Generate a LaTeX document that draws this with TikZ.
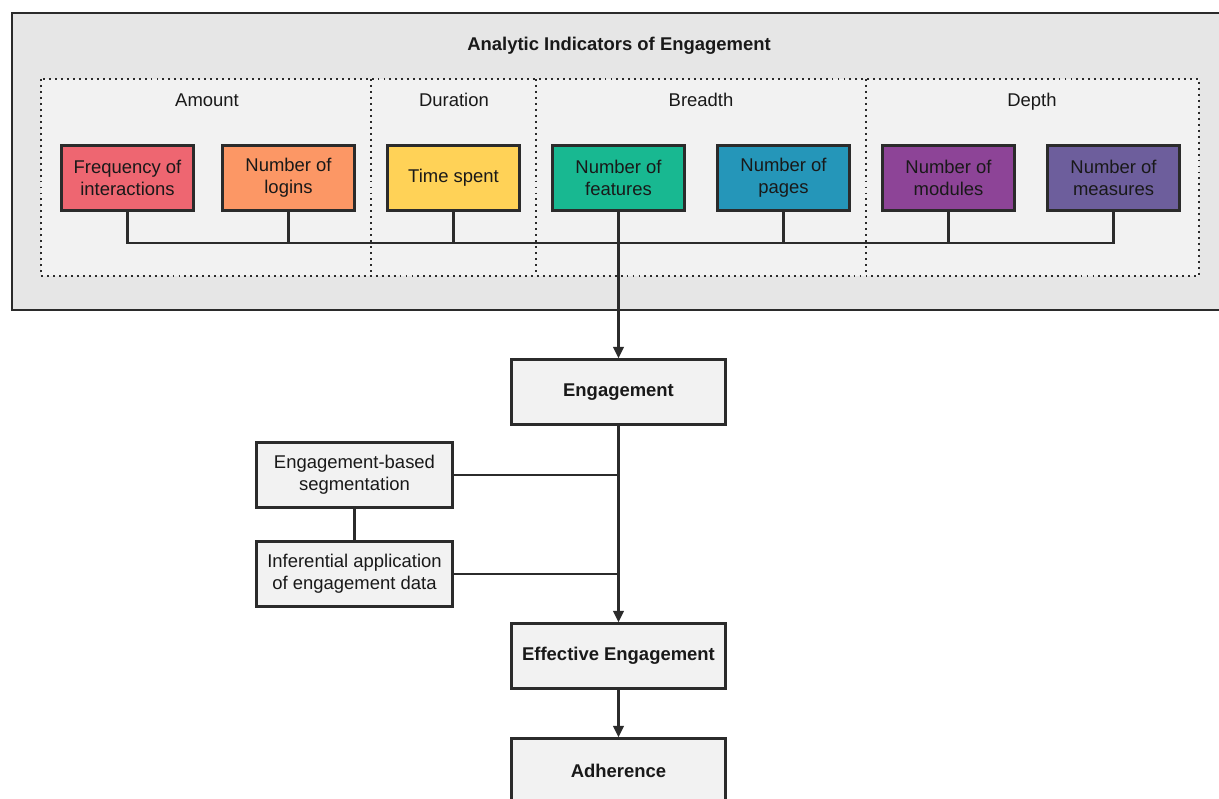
\documentclass[tikz,border=0pt]{standalone}
\usepackage{fontspec}
\setmainfont{Liberation Sans}
\usetikzlibrary{arrows.meta}

\definecolor{freqred}{HTML}{EE6671}
\definecolor{loginorange}{HTML}{FC9765}
\definecolor{timeyellow}{HTML}{FFD257}
\definecolor{featgreen}{HTML}{18B891}
\definecolor{pageblue}{HTML}{2596B9}
\definecolor{modpurple}{HTML}{8D4497}
\definecolor{measviolet}{HTML}{6D5E9C}
\definecolor{outergray}{HTML}{E6E6E6}
\definecolor{panelgray}{HTML}{F2F2F2}
\definecolor{linegray}{HTML}{2B2B2B}

\begin{document}
\begin{tikzpicture}[x=0.02cm,y=-0.02cm,>={Triangle[length=6.5pt,width=6pt]},line width=1.2pt,
  every node/.style={font=\fontsize{10.5}{12.5}\selectfont,text=black!90},
  metric/.style={rectangle,draw=linegray,line width=1.4pt,minimum width=2.64cm,
    minimum height=1.3cm,align=center,inner sep=2pt},
  stage/.style={metric,fill=panelgray,minimum width=4.28cm,font=\fontsize{10.5}{12.5}\selectfont\bfseries},
  method/.style={metric,fill=panelgray,minimum width=3.92cm},
  group label/.style={anchor=base},
  dotline/.style={draw=linegray,line width=1pt,dash pattern=on 1.1pt off 2.3pt}]

 \useasboundingbox (0,0) rectangle (1219,798);

 % indicator panel
 \draw[draw=linegray,fill=outergray,line width=1.4pt] (12,13) rectangle (1228,310);
 \draw[dotline,fill=panelgray] (41,79) rectangle (1199,276);
 \draw[dotline] (371,79) -- (371,276);
 \draw[dotline] (536,79) -- (536,276);
 \draw[dotline] (866,79) -- (866,276);

 \node[group label,font=\fontsize{10.5}{12.5}\selectfont\bfseries] (title) at (619,50) {Analytic Indicators of Engagement};
 \node[group label] (amount) at (207,106) {Amount};
 \node[group label] (duration) at (454,106) {Duration};
 \node[group label] (breadth) at (701,106) {Breadth};
 \node[group label] (depth) at (1032,106) {Depth};

 \node[metric,fill=freqred] (freq) at (127.5,178) {Frequency of\\interactions};
 \node[metric,fill=loginorange] (logins) at (288.5,178) {Number of\\logins};
 \node[metric,fill=timeyellow] (time) at (453.5,178) {Time spent};
 \node[metric,fill=featgreen] (features) at (618.5,178) {Number of\\features};
 \node[metric,fill=pageblue] (pages) at (783.5,178) {Number of\\pages};
 \node[metric,fill=modpurple] (modules) at (948.5,178) {Number of\\modules};
 \node[metric,fill=measviolet] (measures) at (1113.5,178) {Number of\\measures};

 \coordinate (bus) at (618.5,243);

 % flow
 \node[stage] (engagement) at (618.5,392) {Engagement};
 \node[method] (segment) at (354.5,475) {Engagement-based\\segmentation};
 \node[method] (inferential) at (354.5,574) {Inferential application\\of engagement data};
 \node[stage] (effective) at (618.5,656) {Effective Engagement};
 \node[stage] (adherence) at (618.5,771) {Adherence};

 \path[draw=linegray]
    (freq.south)      |- (bus)
    (logins.south)    |- (bus)
    (time.south)      |- (bus)
    (pages.south)     |- (bus)
    (modules.south)   |- (bus)
    (measures.south)  |- (bus)
    (segment.east)    -- (segment.east -| engagement.south)
    (inferential.east) -- (inferential.east -| engagement.south)
    (segment)         -- (inferential);

 \draw[->,draw=linegray] (features) -- (engagement);
 \draw[->,draw=linegray] (engagement) -- (effective);
 \draw[->,draw=linegray] (effective) -- (adherence);

\end{tikzpicture}
\end{document}
